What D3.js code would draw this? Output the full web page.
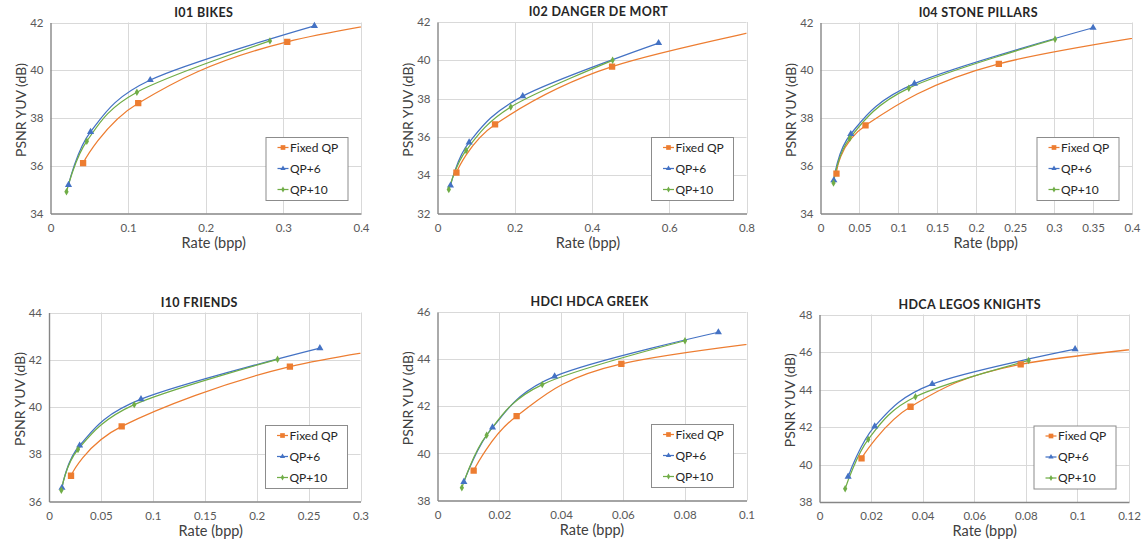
<!DOCTYPE html>
<html>
<head>
<meta charset="utf-8">
<script src="https://cdn.jsdelivr.net/npm/d3@7"></script>
<style>
  html, body { margin: 0; padding: 0; background: #fff; }
  svg { display: block; font-family: Lato, "Open Sans", sans-serif; }
</style>
</head>
<body>
<svg id="chart" width="1145" height="539"></svg>
<script>
// Panel titles and axis ranges
const titles = ["I01 BIKES", "I02 DANGER DE MORT", "I04 STONE PILLARS",
                "I10 FRIENDS", "HDCI HDCA GREEK", "HDCA LEGOS KNIGHTS"];
const yMin = [34, 32, 34, 36, 38, 38];
const yMax = [42, 42, 42, 44, 46, 48];
const xTicks = [
  [0, 0.1, 0.2, 0.3, 0.4],
  [0, 0.2, 0.4, 0.6, 0.8],
  [0, 0.05, 0.1, 0.15, 0.2, 0.25, 0.3, 0.35, 0.4],
  [0, 0.05, 0.1, 0.15, 0.2, 0.25, 0.3],
  [0, 0.02, 0.04, 0.06, 0.08, 0.1],
  [0, 0.02, 0.04, 0.06, 0.08, 0.1, 0.12]
];

// Series names
const seriesNames = ["Fixed QP", "QP+6", "QP+10"];

// Fixed QP: rate (bpp) and PSNR YUV (dB) per sequence
const fixedRate = [
  [0.042, 0.113, 0.305, 0.70],
  [0.049, 0.149, 0.452, 1.00],
  [0.0205, 0.0578, 0.229, 0.60],
  [0.0212, 0.070, 0.232, 0.45],
  [0.0117, 0.0256, 0.0595, 0.15],
  [0.0163, 0.0353, 0.078, 0.18]
];
const fixedPsnr = [
  [36.11, 38.62, 41.19, 43.34],
  [34.13, 36.65, 39.67, 42.26],
  [35.67, 37.69, 40.27, 42.32],
  [37.09, 39.18, 41.71, 43.21],
  [39.27, 41.58, 43.80, 45.38],
  [40.33, 43.08, 45.34, 46.95]
];

// QP+6
const qp6Rate = [
  [0.0232, 0.0516, 0.1285, 0.340],
  [0.0336, 0.0819, 0.2207, 0.5724],
  [0.0171, 0.0389, 0.1206, 0.350],
  [0.0125, 0.0295, 0.0886, 0.2609],
  [0.00853, 0.0178, 0.0379, 0.0909],
  [0.0111, 0.0214, 0.0437, 0.0991]
];
const qp6Psnr = [
  [35.20, 37.42, 39.59, 41.86],
  [33.46, 35.71, 38.13, 40.90],
  [35.39, 37.33, 39.44, 41.78],
  [36.58, 38.37, 40.33, 42.49],
  [38.79, 41.10, 43.27, 45.14],
  [39.35, 42.03, 44.29, 46.15]
];

// QP+10
const qp10Rate = [
  [0.0206, 0.0468, 0.1113, 0.2827],
  [0.0293, 0.0741, 0.1897, 0.4534],
  [0.0167, 0.0376, 0.1134, 0.3012],
  [0.0119, 0.0279, 0.0821, 0.2201],
  [0.00788, 0.0159, 0.0339, 0.0801],
  [0.00995, 0.0189, 0.0372, 0.0811]
];
const qp10Psnr = [
  [34.91, 37.03, 39.08, 41.23],
  [33.25, 35.29, 37.56, 40.00],
  [35.28, 37.15, 39.25, 41.30],
  [36.48, 38.20, 40.10, 42.02],
  [38.54, 40.77, 42.92, 44.78],
  [38.71, 41.34, 43.61, 45.55]
];

// Plot-area rectangles [left, top, right, bottom]
const plotRects = [
  [50.5, 22.5, 361, 213.5],
  [437.5, 22, 746.5, 213.5],
  [820.5, 22.5, 1132, 213.5],
  [49, 312.5, 360.5, 501.5],
  [437.5, 312, 746.5, 500.5],
  [819.5, 314.5, 1129, 502]
];
// Horizontal nudges for chart titles and x-axis titles
const titleShift = [-2, 6.5, 2, -5.5, -2.5, -4.5];
const xTitleShift = [8, -4, 9.5, 6, 0, 10.5];

const colors = ["#ED7D31", "#4472C4", "#70AD47"];
const symbols = [d3.symbolSquare, d3.symbolTriangle, d3.symbolDiamond];
const markerSize = [40, 22, 16];
const legendMarkerSize = [22, 12, 10];

const svg = d3.select("#chart");
const defs = svg.append("defs");
const fmt = v => String(+v.toFixed(3));

titles.forEach((title, i) => {
  const [L, T, R, B] = plotRects[i];
  const xs = xTicks[i];
  const x = d3.scaleLinear().domain([0, xs[xs.length - 1]]).range([L, R]);
  const y = d3.scaleLinear().domain([yMin[i], yMax[i]]).range([B, T]);
  const yTickVals = d3.range(yMin[i], yMax[i] + 0.001, 2);

  const g = svg.append("g");

  defs.append("clipPath").attr("id", "clip" + i)
    .append("rect").attr("x", L).attr("y", T - 6).attr("width", R - L).attr("height", B - T + 12);

  // gridlines
  g.append("g").selectAll("line").data(yTickVals.filter(v => v > yMin[i]))
    .join("line")
    .attr("x1", L).attr("x2", R)
    .attr("y1", d => Math.round(y(d)) + 0.5).attr("y2", d => Math.round(y(d)) + 0.5)
    .attr("stroke", "#d9d9d9").attr("stroke-width", 1);
  g.append("g").selectAll("line").data(xs.filter(v => v > 0))
    .join("line")
    .attr("y1", T).attr("y2", B)
    .attr("x1", d => Math.round(x(d)) + 0.5).attr("x2", d => Math.round(x(d)) + 0.5)
    .attr("stroke", "#d9d9d9").attr("stroke-width", 1);

  // axes
  const xAxis = d3.axisBottom(x).tickValues(xs).tickFormat(fmt).tickSize(0).tickPadding(10);
  const yAxis = d3.axisLeft(y).tickValues(yTickVals).tickFormat(d3.format("d")).tickSize(0).tickPadding(7);
  const gx = g.append("g").attr("transform", `translate(0,${B})`).call(xAxis);
  const gy = g.append("g").attr("transform", `translate(${L},0)`).call(yAxis);
  [gx, gy].forEach(a => {
    a.select(".domain").attr("stroke", "#868686").attr("stroke-width", 1.4);
    a.selectAll("text").attr("fill", "#595959").attr("font-size", 11.5)
      .attr("font-family", "Lato, sans-serif");
  });

  // series
  const series = [
    d3.zip(fixedRate[i], fixedPsnr[i]),
    d3.zip(qp6Rate[i], qp6Psnr[i]),
    d3.zip(qp10Rate[i], qp10Psnr[i])
  ];
  const line = d3.line().x(d => x(d[0])).y(d => y(d[1])).curve(d3.curveCardinal.tension(0));
  const plot = g.append("g").attr("clip-path", `url(#clip${i})`);
  series.forEach((pts, s) => {
    plot.append("path").attr("d", line(pts)).attr("fill", "none")
      .attr("stroke", colors[s]).attr("stroke-width", 1.25);
  });
  series.forEach((pts, s) => {
    plot.selectAll(null).data(pts.filter(d => d[0] <= x.domain()[1]))
      .join("path")
      .attr("transform", d => `translate(${x(d[0])},${y(d[1])})`)
      .attr("d", d3.symbol(symbols[s], markerSize[s]))
      .attr("fill", colors[s]);
  });

  // legend
  const lw = 82, lh = 63;
  const lx = R - 13.5 - lw, ly = B - 13.5 - lh;
  const lg = g.append("g").attr("transform", `translate(${lx},${ly})`);
  lg.append("rect").attr("x", 0.5).attr("y", 0.5).attr("width", lw).attr("height", lh)
    .attr("fill", "#fff").attr("stroke", "#8c8c8c").attr("stroke-width", 1);
  seriesNames.forEach((name, s) => {
    const yy = 10.5 + s * 21;
    lg.append("line").attr("x1", 12).attr("x2", 23).attr("y1", yy).attr("y2", yy)
      .attr("stroke", colors[s]).attr("stroke-width", 1.25);
    lg.append("path").attr("transform", `translate(17.5,${yy})`)
      .attr("d", d3.symbol(symbols[s], legendMarkerSize[s])).attr("fill", colors[s]);
    lg.append("text").attr("x", 24.5).attr("y", yy).attr("dy", "0.35em")
      .attr("font-size", 12).attr("fill", "#262626").text(name);
  });

  // titles
  g.append("text").attr("x", (L + R) / 2 + titleShift[i]).attr("y", T - 10).attr("dy", "0.35em")
    .attr("text-anchor", "middle").attr("font-size", 12.5).attr("font-weight", 700)
    .attr("letter-spacing", 0.35).attr("fill", "#262626").text(title);
  g.append("text").attr("x", (L + R) / 2 + xTitleShift[i]).attr("y", B + 29).attr("dy", "0.35em")
    .attr("text-anchor", "middle").attr("font-size", 14.5).attr("fill", "#404040")
    .text("Rate (bpp)");
  g.append("text")
    .attr("transform", `translate(${L - 29},${(T + B) / 2 - 8}) rotate(-90)`)
    .attr("dy", "0.35em").attr("text-anchor", "middle")
    .attr("font-size", 14).attr("fill", "#404040").text("PSNR YUV (dB)");
});
</script>
</body>
</html>
